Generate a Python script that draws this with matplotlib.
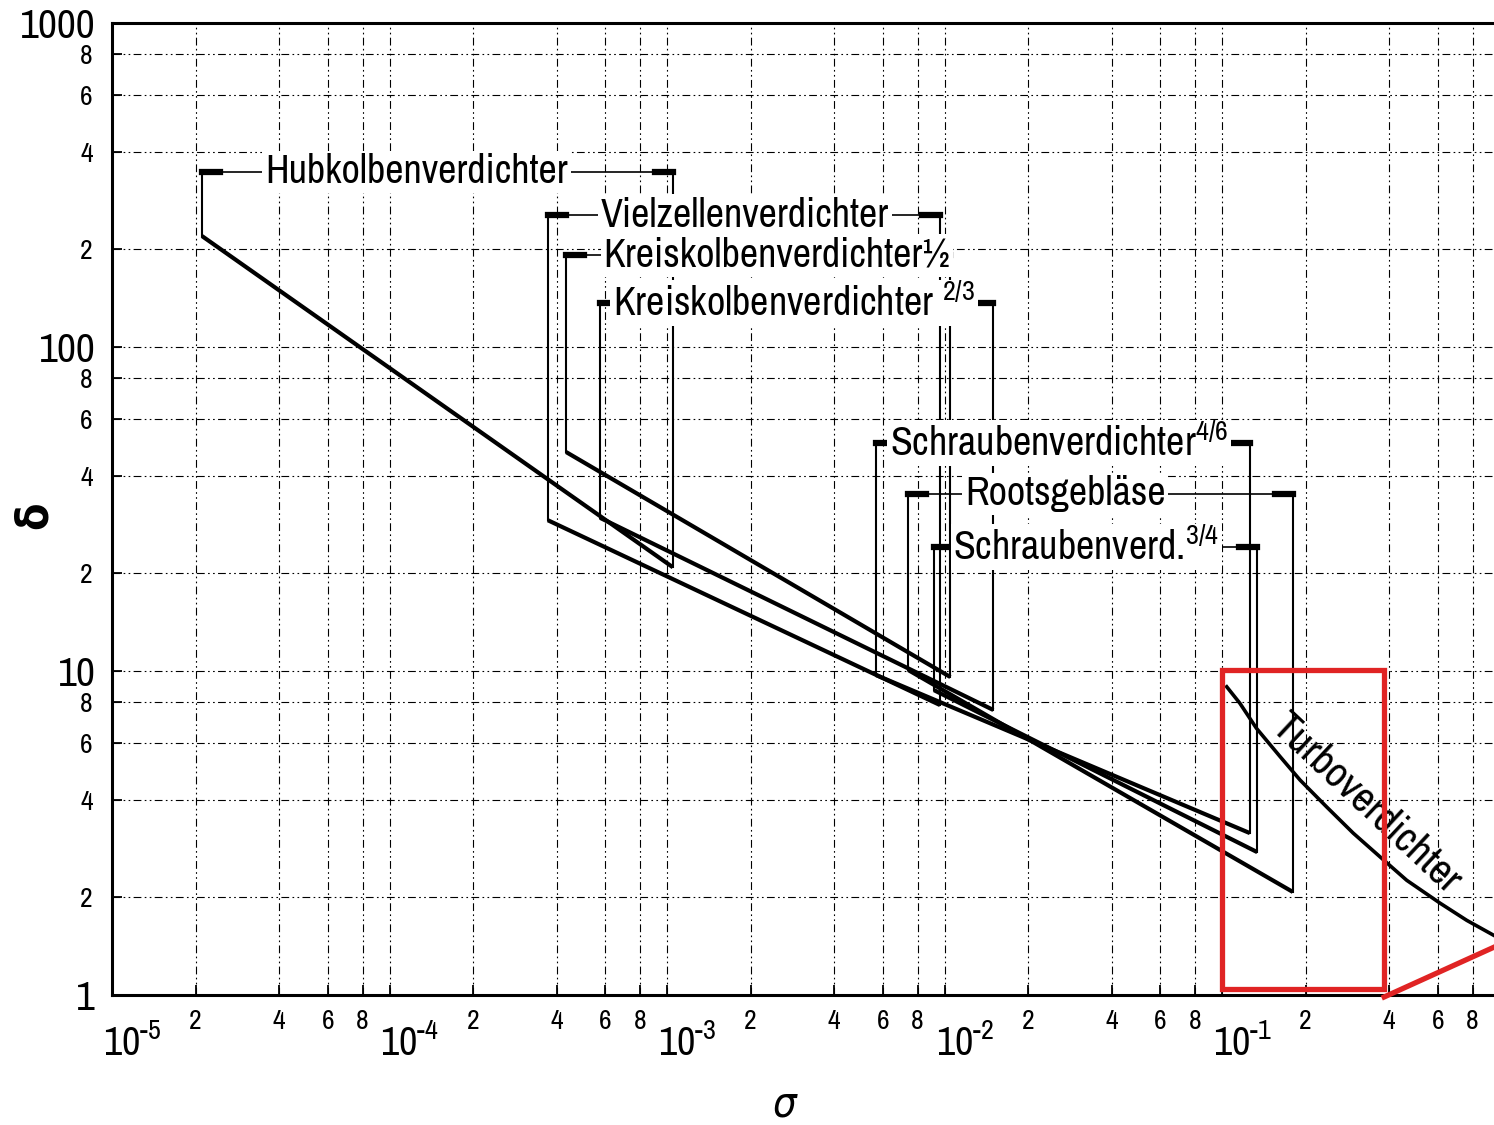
import numpy as np
import matplotlib.pyplot as plt
from matplotlib import font_manager as fm
from matplotlib.ticker import FixedLocator, LogLocator, FuncFormatter
from matplotlib.transforms import ScaledTranslation
from matplotlib.patches import Rectangle

# schmale Schrift suchen (wie die DIN-Schrift im Original)
narrow_name, narrow_stretch = 'DejaVu Sans', 'normal'
best = 99
for f in fm.fontManager.ttflist:
    key = (f.name + ' ' + str(f.stretch)).lower()
    if f.style != 'normal' or str(f.weight) not in ('400', 'normal', 'regular', 'book'):
        continue
    if 'narrow' in key:
        rank = 0
    elif 'condensed' in key and 'dejavu' in key:
        rank = 1
    elif 'condensed' in key:
        rank = 2
    else:
        continue
    if rank < best:
        best = rank
        narrow_name, narrow_stretch = f.name, f.stretch

plt.rcParams['font.family'] = [narrow_name, 'DejaVu Sans']
plt.rcParams['font.stretch'] = narrow_stretch
plt.rcParams['mathtext.fontset'] = 'custom'
pattern = narrow_name if narrow_stretch == 'normal' else '%s:stretch=%s' % (narrow_name, narrow_stretch)
plt.rcParams['mathtext.rm'] = pattern
plt.rcParams['mathtext.it'] = pattern + ':italic'

# Verdichterbauarten: Kennlinie vom Anfangs- zum Endpunkt (sigma, delta)
names = ['Hubkolbenverdichter', 'Vielzellenverdichter', 'Kreiskolbenverdichter½',
         'Kreiskolbenverdichter $^{2/3}$', 'Schraubenverdichter$^{4/6}$',
         'Rootsgebläse', 'Schraubenverd.$^{3/4}$']
sigma_start = [2.11e-5, 3.72e-4, 4.33e-4, 5.74e-4, 5.66e-3, 7.4e-3, 9.16e-3]
sigma_end = [1.05e-3, 9.64e-3, 1.05e-2, 1.50e-2, 0.126, 0.180, 0.134]
delta_start = [220, 29.2, 47.4, 29.7, 9.72, 10.07, 8.73]
delta_end = [20.9, 7.85, 9.58, 7.58, 3.16, 2.08, 2.76]

# Turboverdichter-Kurve
turbo_sigma = [0.104, 0.116, 0.133, 0.162, 0.191, 0.238, 0.297, 0.371, 0.463, 0.611,
               0.762, 0.951, 1.2]
turbo_delta = [8.94, 7.95, 6.66, 5.44, 4.61, 3.81, 3.16, 2.67, 2.26, 1.92, 1.70, 1.53, 1.38]

# rote Markierung
mark_sigma = [0.1, 0.384]
mark_delta = [1.04, 10.07]
mark_line_sigma = [0.384, 1.0]
mark_line_delta = [0.986, 1.43]

# Lage der Bereichsbeschriftungen
bracket_delta = [347, 255, 192, 137, 50.6, 35.2, 24.1]
label_sigma = [1.25e-4, 1.91e-3, 2.49e-3, 2.87e-3, 2.59e-2, 2.72e-2, 3.24e-2]

fig = plt.figure(figsize=(14.94, 11.25), dpi=100)

# Schriftgröße so wählen, dass die Textbreite zum Original passt
r = fig.canvas.get_renderer()
probe = fig.text(0, 0, 'Hubkolbenverdichter', fontsize=29)
k = min(303 / probe.get_window_extent(r).width, 1.1)
probe.remove()
fs_label = 29 * k
fs_xmajor = 29 * max(k, 0.72)
fs_ymajor = 30 * max(k, 0.72)
fs_minor = 20 * max(k, 0.8)

ax = fig.add_axes([112 / 1494, 130 / 1125, 1387.5 / 1494, 972 / 1125])
ax.set_xscale('log')
ax.set_yscale('log')
ax.set_xlim(1e-5, 1)
ax.set_ylim(1, 1000)

ax.xaxis.set_major_locator(FixedLocator([1e-5, 1e-4, 1e-3, 1e-2, 1e-1]))
ax.xaxis.set_minor_locator(LogLocator(base=10, subs=[2, 4, 6, 8], numticks=20))
ax.yaxis.set_major_locator(FixedLocator([1, 10, 100, 1000]))
ax.yaxis.set_minor_locator(LogLocator(base=10, subs=[2, 4, 6, 8], numticks=20))


def minor_label(v, pos):
    return str(int(round(v / 10 ** np.floor(np.log10(v) + 1e-9))))


def decade_label(v, pos):
    return '$10^{\u2010%d}$' % round(-np.log10(v))


ax.xaxis.set_major_formatter(FuncFormatter(decade_label))
ax.xaxis.set_minor_formatter(FuncFormatter(minor_label))
ax.yaxis.set_major_formatter(FuncFormatter(lambda v, p: '%d' % round(v)))
ax.yaxis.set_minor_formatter(FuncFormatter(minor_label))

ax.tick_params(which='both', direction='in', length=7, width=1.3)
ax.tick_params(axis='x', which='major', labelsize=fs_xmajor, pad=20)
ax.tick_params(axis='x', which='minor', labelsize=fs_minor, pad=10)
ax.tick_params(axis='y', which='major', labelsize=fs_ymajor, pad=12)
ax.tick_params(axis='y', which='minor', labelsize=fs_minor, pad=14)

# Zehnerpotenzen etwas rechts vom Teilstrich wie im Original
for lab in ax.xaxis.get_majorticklabels():
    lab.set_ha('left')
    lab.set_transform(lab.get_transform() + ScaledTranslation(-0.09, 0, fig.dpi_scale_trans))

ax.grid(True, which='both', color='k', lw=0.8, ls=(0, (7, 3, 1.5, 3, 1.5, 3)))
for side in ['left', 'bottom', 'top', 'right']:
    ax.spines[side].set_linewidth(2.2)

# Kennlinien und Bereichsmarken
for i in range(len(names)):
    s0, s1 = sigma_start[i], sigma_end[i]
    d0, d1 = delta_start[i], delta_end[i]
    yb = bracket_delta[i]
    ax.plot([s0, s1], [d0, d1], color='k', lw=3, solid_capstyle='butt', zorder=4)
    ax.plot([s0, s0], [yb, d0], color='k', lw=1.5, zorder=3)
    ax.plot([s1, s1], [yb, d1], color='k', lw=1.5, zorder=3)
    ax.plot([s0, s1], [yb, yb], color='k', lw=1.2, zorder=3)
    ax.plot([s0, s0 * 10 ** 0.065], [yb, yb], color='k', lw=4.5, zorder=4)
    ax.plot([s1 / 10 ** 0.065, s1], [yb, yb], color='k', lw=4.5, zorder=4)
    ax.text(label_sigma[i], yb, names[i], fontsize=fs_label, ha='center', va='center',
            zorder=5, bbox=dict(fc='white', ec='none', pad=2))

# Turboverdichter
ax.plot(turbo_sigma, turbo_delta, color='k', lw=2.6, zorder=4)
ax.text(0.333, 3.91, 'Turboverdichter', fontsize=fs_label * 1.05, rotation=-43,
        rotation_mode='anchor', ha='center', va='center', zorder=5)

# rote Markierung
ax.add_patch(Rectangle((mark_sigma[0], mark_delta[0]), mark_sigma[1] - mark_sigma[0],
                       mark_delta[1] - mark_delta[0], fill=False, ec='#e02424', lw=3.8,
                       zorder=6, clip_on=False))
ax.plot(mark_line_sigma, mark_line_delta, color='#e02424', lw=3.8, zorder=6, clip_on=False)

# Achsbeschriftung
ax.text((35 - 112) / 1387.5, 0.494, 'δ', transform=ax.transAxes, fontsize=32,
        fontweight='bold', rotation=90, ha='center', va='center')
ax.text(0.485, -0.113, 'σ', transform=ax.transAxes, fontsize=30, fontstyle='italic',
        ha='center', va='center')

fig.savefig('out.png', dpi=100)
